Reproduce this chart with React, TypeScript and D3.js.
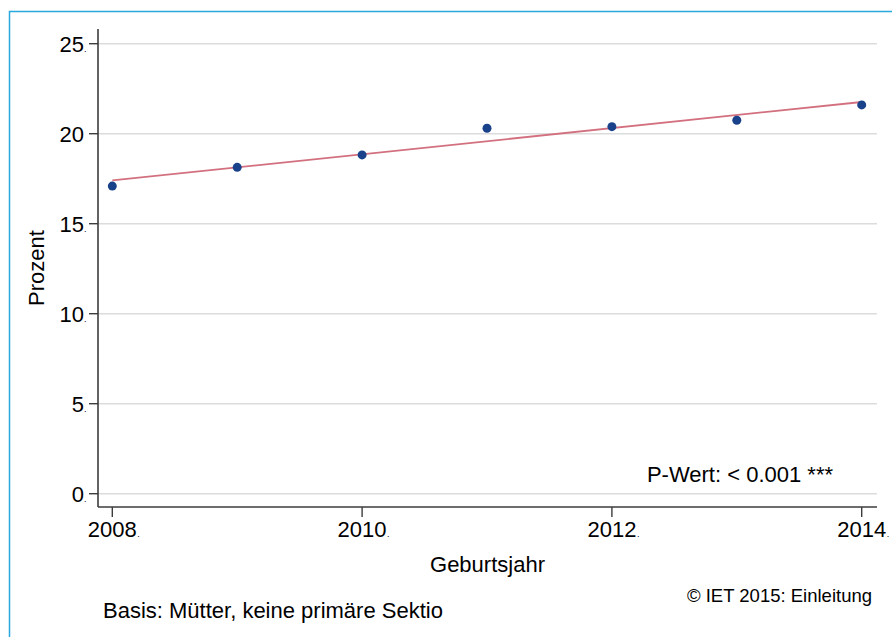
import React from "react";
import * as d3 from "d3";

const years = [2008, 2009, 2010, 2011, 2012, 2013, 2014];
const percent = [17.09, 18.13, 18.82, 20.3, 20.39, 20.75, 21.6];
const yTicks = [0, 5, 10, 15, 20, 25];
const yTickDot = [true, true, true, true, false, true];
const xTicks = [2008, 2010, 2012, 2014];
const xLabel = "Geburtsjahr";
const yLabel = "Prozent";
const pText = "P-Wert: < 0.001 ***";
const caption = "© IET 2015: Einleitung";
const note = "Basis: Mütter, keine primäre Sektio";

const W = 892;
const H = 637;
const FONT = "'Liberation Sans', Arial, Helvetica, sans-serif";
const FS = 22;

export default function App() {
  const x = d3.scaleLinear().domain([2008, 2014]).range([112.3, 861.7]);
  const y = d3.scaleLinear().domain([0, 25]).range([493.7, 43.7]);
  const plotLeft = 98;
  const plotRight = 877;
  const axisY = 507;
  const axisTop = 29;

  // least-squares fit of the points
  const mx = d3.mean(years)!;
  const my = d3.mean(percent)!;
  const slope =
    d3.sum(years.map((v, i) => (v - mx) * (percent[i] - my))) /
    d3.sum(years.map((v) => (v - mx) ** 2));
  const icpt = my - slope * mx;
  const fitLine = d3
    .line<number>()
    .x((v) => x(v))
    .y((v) => y(icpt + slope * v));
  const fitYears = [years[0], years[years.length - 1]];

  return (
    <svg
      width={W}
      height={H}
      style={{ position: "absolute", left: 0, top: 0, background: "#fff" }}
      fontFamily={FONT}
    >
      <rect x={9.5} y={11.5} width={W + 20} height={H + 20} fill="#fff" stroke="#2aa8e0" strokeWidth={1.5} />
      {yTicks.map((t) => (
        <line key={"g" + t} x1={plotLeft} x2={plotRight} y1={y(t)} y2={y(t)} stroke="#dcdcdc" strokeWidth={1.5} />
      ))}
      <line x1={plotLeft} x2={plotLeft} y1={axisTop} y2={axisY} stroke="#3c3c3c" strokeWidth={1.6} />
      <line x1={plotLeft} x2={plotRight} y1={axisY} y2={axisY} stroke="#3c3c3c" strokeWidth={1.6} />
      {yTicks.map((t, i) => (
        <g key={"yt" + t}>
          <line x1={plotLeft - 9} x2={plotLeft} y1={y(t)} y2={y(t)} stroke="#3c3c3c" strokeWidth={1.4} />
          <text x={84} y={y(t) + 8} textAnchor="end" fontSize={FS} fill="#000">
            {t}
          </text>
          {yTickDot[i] && (
            <text x={84} y={y(t) + 8} fontSize={9} fill="#000">.</text>
          )}
        </g>
      ))}
      {xTicks.map((t) => (
        <g key={"xt" + t}>
          <line x1={x(t)} x2={x(t)} y1={axisY} y2={axisY + 10} stroke="#3c3c3c" strokeWidth={1.4} />
          <text x={x(t)} y={537} textAnchor="middle" fontSize={FS} fill="#000">
            {t}
          </text>
          <text x={x(t) + 25} y={537} fontSize={9} fill="#000">.</text>
        </g>
      ))}
      <path d={fitLine(fitYears)!} fill="none" stroke="#d3707f" strokeWidth={1.8} />
      {years.map((v, i) => (
        <circle key={v} cx={x(v)} cy={y(percent[i])} r={4.5} fill="#1a428a" />
      ))}
      <text x={833} y={482} textAnchor="end" fontSize={FS} fill="#000">{pText}</text>
      <text x={(plotLeft + plotRight) / 2} y={572} textAnchor="middle" fontSize={FS} fill="#000">{xLabel}</text>
      <text
        transform={`translate(44, ${(axisTop + axisY) / 2}) rotate(-90)`}
        textAnchor="middle"
        fontSize={FS}
        fill="#000"
      >
        {yLabel}
      </text>
      <text x={872} y={602} textAnchor="end" fontSize={18.5} fill="#000">{caption}</text>
      <text x={103} y={618} fontSize={FS} fill="#000">{note}</text>
    </svg>
  );
}
